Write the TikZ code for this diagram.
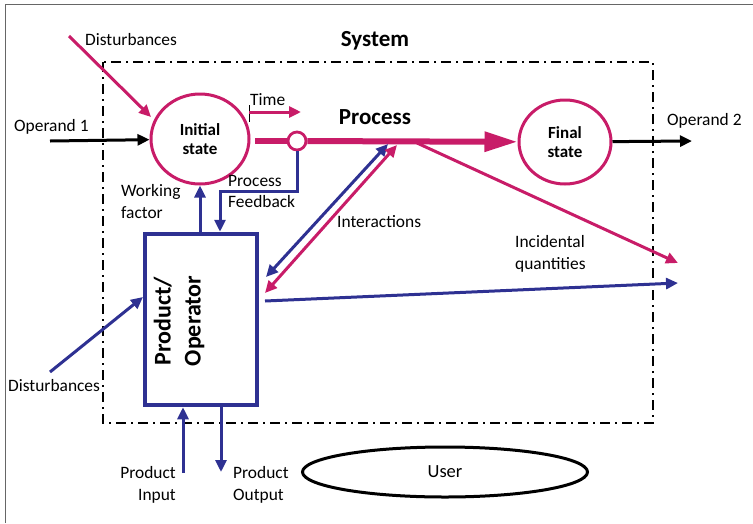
\documentclass[tikz,border=0pt]{standalone}
\usepackage{fontspec}
\setmainfont{Carlito}
\usetikzlibrary{arrows.meta,shapes.geometric}
\definecolor{mag}{RGB}{200,28,104}
\definecolor{navy}{RGB}{46,49,146}
\begin{document}
\begin{tikzpicture}[x=1pt,y=-1pt,
  lbl/.style={inner sep=0pt,font=\fontsize{17.4}{21.5}\selectfont},
  ar/.style={line width=3pt,-{Triangle[length=12pt,width=11pt]}},
  dar/.style={line width=3pt,{Triangle[length=12pt,width=11pt]}-{Triangle[length=12pt,width=11pt]}},
  state/.style={ellipse,draw=mag,line width=3pt,inner sep=0pt,font=\bfseries\fontsize{17}{19}\selectfont,align=center}]
\useasboundingbox (0,0) rectangle (753,523);
\draw[gray!80!black,line width=1pt] (5,523) -- (5,4) -- (753,4);
% system boundary
\draw[line width=2.5pt,dash pattern=on 10pt off 5pt on 2pt off 5pt] (103,62) rectangle (653,423);
\node[inner sep=0pt,font=\bfseries\fontsize{23}{25}\selectfont] (sys) at (375,41) {System};
% states
\node[state,minimum width=98pt,minimum height=90pt] (init) at (200,139) {Initial\\state};
\node[state,minimum width=92pt,minimum height=84pt] (final) at (565,142) {Final\\state};
\node[circle,draw=mag,fill=white,line width=2.8pt,minimum size=18pt,inner sep=0pt] (pc) at (297,141) {};
\node[inner sep=0pt,font=\bfseries\fontsize{23}{25}\selectfont] (proc) at (375,117) {Process};
% process line
\coordinate (pstart) at (255,141);
\draw[mag,line width=6pt] (pstart) -- (pc);
\draw[mag,line width=6pt,-{Triangle[length=33pt,width=19pt]}] (pc) -- (final);
% time
\coordinate (t1) at (249,105);
\coordinate (t2) at (249,122);
\coordinate (ta) at (249,112);
\coordinate (tb) at (301,112);
\draw[line width=1pt] (t1) -- (t2);
\draw[mag,ar] (ta) -- (tb);
\node[lbl,anchor=west] (time) at (250,100) {Time};
% disturbances top
\coordinate (d1s) at (69,36);
\coordinate (d1e) at (151,117);
\draw[mag,ar] (d1s) -- (d1e);
\node[lbl,anchor=west] (dist1) at (85,40) {Disturbances};
% operands
\coordinate (o1) at (50,141);
\draw[ar] (o1) -- (init);
\node[lbl,anchor=west] (op1) at (14,127) {Operand 1};
\coordinate (o2) at (692,141);
\draw[ar] (final) -- (o2);
\node[lbl,anchor=west] (op2) at (667,121) {Operand 2};
% product box
\node[draw=navy,line width=4.5pt,minimum width=112pt,minimum height=171pt,inner sep=0pt] (box) at (201,319.5) {};
\node[rotate=90,inner sep=0pt,align=center,font=\bfseries\fontsize{24}{30}\selectfont] (prodtxt) at (179,321) {Product/\\Operator};
% working factor
\draw[navy,ar] (box.north -| init) -- (init.south);
\node[lbl,anchor=west,align=left] (wf) at (121,201.5) {Working\\factor};
% feedback
\coordinate (fb) at (220,191);
\draw[navy,ar] (pc.south) |- (fb) -- (fb |- box.north);
\node[lbl,anchor=west,align=left] (pf) at (228,191.5) {Process\\Feedback};
% interactions
\coordinate (ib1) at (266,277);
\coordinate (ib2) at (388,144);
\coordinate (im1) at (265,293);
\coordinate (im2) at (397,145);
\draw[navy,dar] (ib1) -- (ib2);
\draw[mag,dar] (im1) -- (im2);
\node[lbl,anchor=west] (inter) at (337,222) {Interactions};
% incidental
\coordinate (is) at (417,143);
\coordinate (ie) at (678,263);
\draw[mag,ar] (is) -- (ie);
\coordinate (bs) at (265,301);
\coordinate (be) at (678,283);
\draw[navy,ar] (bs) -- (be);
\node[lbl,anchor=west,align=left] (inc) at (515,254) {Incidental\\quantities};
% disturbances bottom
\coordinate (d2s) at (50,372);
\coordinate (d2e) at (143,297);
\draw[navy,ar] (d2s) -- (d2e);
\node[lbl,anchor=west] (dist2) at (8,386) {Disturbances};
% product input / output
\coordinate (pin) at (183,473);
\draw[navy,ar] (pin) -- (pin |- box.south);
\coordinate (pout) at (221,472);
\draw[navy,ar] (pout |- box.south) -- (pout);
\node[lbl,anchor=east,align=right] (pi) at (176,485) {Product\\Input};
\node[lbl,anchor=west,align=left] (po) at (233,485) {Product\\Output};
% user
\node[ellipse,draw,line width=3pt,minimum width=285pt,minimum height=50pt,inner sep=0pt,font=\fontsize{18.5}{20}\selectfont] (user) at (445,472) {User};
\end{tikzpicture}
\end{document}
